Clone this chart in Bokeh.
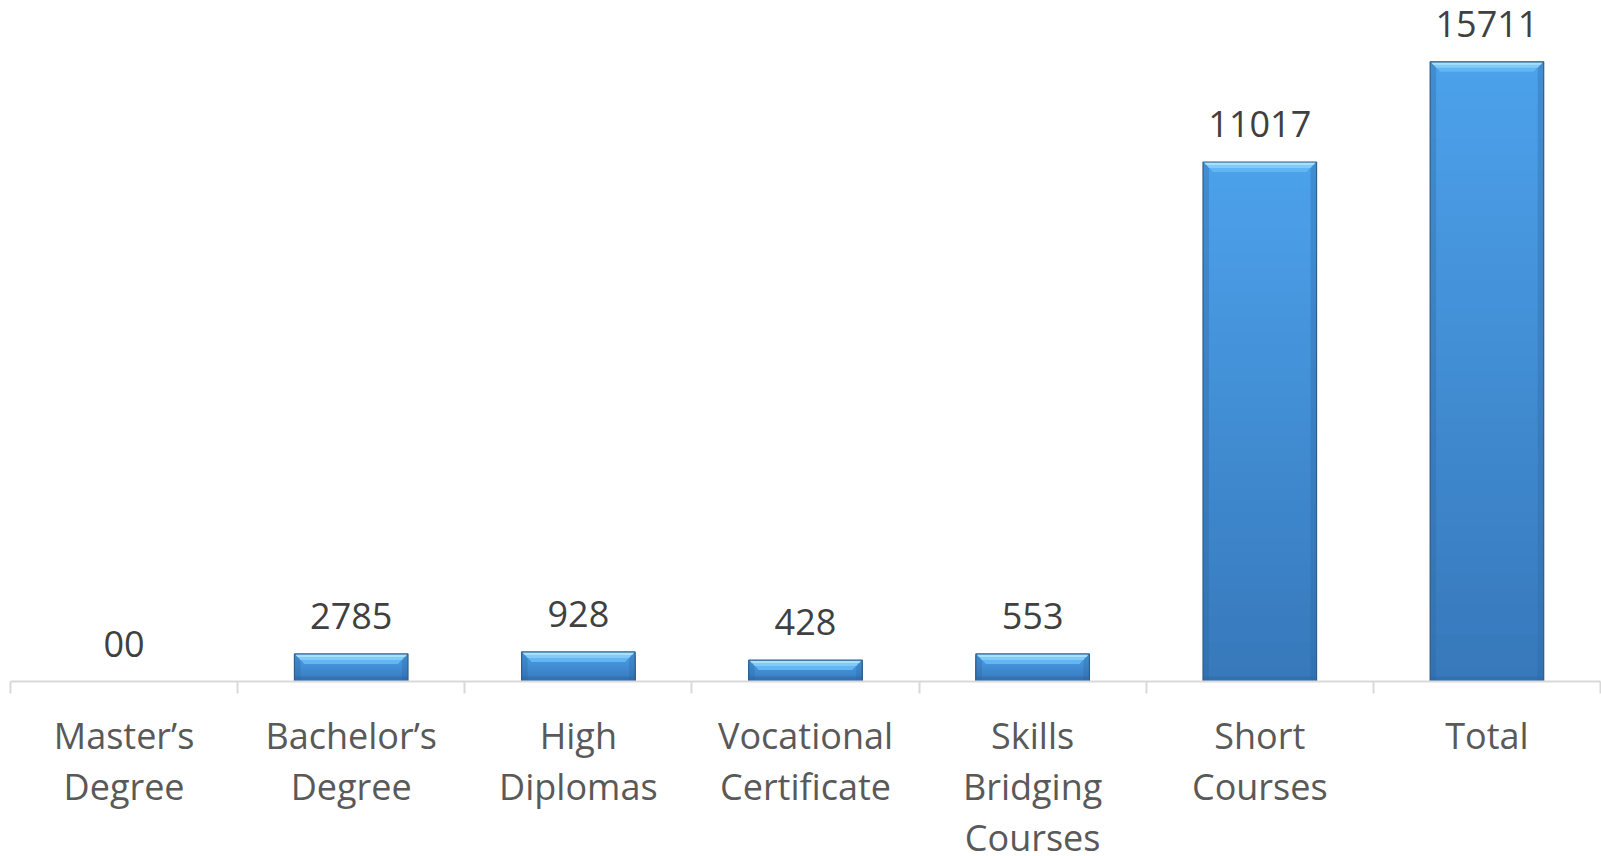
from bokeh.plotting import figure
from bokeh.models import Range1d, LinearAxis, FixedTicker, ColumnDataSource
from bokeh.core.properties import value
from bokeh.embed import file_html
from bokeh.resources import INLINE

# ---- data ----
categories = ["Master\u2019s\nDegree", "Bachelor\u2019s\nDegree", "High\nDiplomas",
              "Vocational\nCertificate", "Skills\nBridging\nCourses", "Short\nCourses", "Total"]
value_labels = ["00", "2785", "928", "428", "553", "11017", "15711"]
# bar heights as drawn in the picture (not proportional to the printed labels)
bar_heights = [0, 700, 750, 543, 700, 13170, 15711]

xs = list(range(len(categories)))
Y_END = 17265
FRAME_H = 681
upp = Y_END / FRAME_H          # data units per pixel (vertical)
xpp = 7 / 1590                 # data units per pixel (horizontal)

p = figure(frame_width=1590, frame_height=FRAME_H, output_backend="svg", toolbar_location=None,
           x_range=Range1d(-0.5, 6.5), y_range=Range1d(0, Y_END),
           min_border_left=10, min_border_right=1, min_border_top=0, min_border_bottom=0,
           x_axis_type=None, y_axis_type=None)
p.grid.visible = False
p.outline_line_color = None
p.background_fill_color = "white"
p.border_fill_color = "white"

BW = 0.5

def lerp(c1, c2, t):
    a = [int(c1[i:i + 2], 16) for i in (1, 3, 5)]
    b = [int(c2[i:i + 2], 16) for i in (1, 3, 5)]
    return "#%02x%02x%02x" % tuple(round(a[k] + (b[k] - a[k]) * t) for k in range(3))

shown = [(x, h) for x, h in zip(xs, bar_heights) if h > 0]
sx = [x for x, h in shown]
sh = [h for x, h in shown]

# body gradient (top light -> bottom dark), drawn as overlapping shrinking bars (no seams)
K = 40
for i in range(K):
    t0 = i / K
    src = ColumnDataSource(dict(x=sx, top=[h * (1 - t0) for h in sh]))
    col = lerp("#4ca1eb", "#3779bb", i / (K - 1))
    p.vbar(x="x", top="top", bottom=0, width=BW, source=src,
           fill_color=col, line_color=None)

# side bevels (darker edges)
side_w = 6 * xpp
for sgn in (-1, 1):
    src = ColumnDataSource(dict(x=[x + sgn * (BW / 2 - side_w / 2) for x in sx], top=sh))
    p.vbar(x="x", top="top", bottom=0, width=side_w, source=src,
           fill_color="#2d66a3", fill_alpha=0.35, line_color=None)

# bottom bevel (darker strip)
src = ColumnDataSource(dict(x=sx, top=[min(5 * upp, h / 4) for h in sh]))
p.vbar(x="x", top="top", bottom=0, width=BW, source=src,
       fill_color="#2d66a3", fill_alpha=0.45, line_color=None)

# top bevel: trapezoids, light
def trap(bev_px, ins_px, top_off_px=0):
    pxs, pys = [], []
    for x, h in shown:
        t = h - top_off_px * upp
        b = h - bev_px * upp
        pxs.append([x - BW / 2 + 1 * xpp, x + BW / 2 - 1 * xpp,
                    x + BW / 2 - ins_px * xpp, x - BW / 2 + ins_px * xpp])
        pys.append([t, t, b, b])
    return ColumnDataSource(dict(xs=pxs, ys=pys))

p.patches("xs", "ys", source=trap(10, 10), fill_color="#62b6f3", line_color=None)
p.patches("xs", "ys", source=trap(6, 6), fill_color="#82cbf8", line_color=None)
p.patches("xs", "ys", source=trap(3, 3, 0.5), fill_color="#a6e0fb", line_color=None)

# outline
src = ColumnDataSource(dict(x=sx, top=sh))
p.vbar(x="x", top="top", bottom=0, width=BW, source=src, fill_color=None,
       line_color="#2f5e8c", line_width=1.2)

# value labels
src = ColumnDataSource(dict(x=xs, y=bar_heights, t=value_labels))
p.text(x="x", y="y", text="t", source=src, y_offset=-38,
       text_align="center", text_baseline="middle",
       text_font=value("Open Sans"), text_font_size="36px", text_color="#404040")

# x axis with ticks at category boundaries
ax = LinearAxis(ticker=FixedTicker(ticks=xs, minor_ticks=[x - 0.5 for x in xs] + [6.5]))
ax.major_label_overrides = {x: c for x, c in zip(xs, categories)}
ax.axis_line_color = "#d9d9d9"
ax.axis_line_width = 2
ax.major_tick_line_color = None
ax.major_tick_out = 0
ax.major_tick_in = 0
ax.minor_tick_line_color = "#d9d9d9"
ax.minor_tick_line_width = 2
ax.minor_tick_out = 12
ax.minor_tick_in = 0
ax.major_label_standoff = 17
ax.major_label_text_font = "Open Sans"
ax.major_label_text_font_size = "36px"
ax.major_label_text_color = "#595959"
ax.major_label_text_line_height = 1.05
ax.major_label_text_align = "center"
p.add_layout(ax, "below")

open("out.html", "w").write(file_html(p, INLINE))
